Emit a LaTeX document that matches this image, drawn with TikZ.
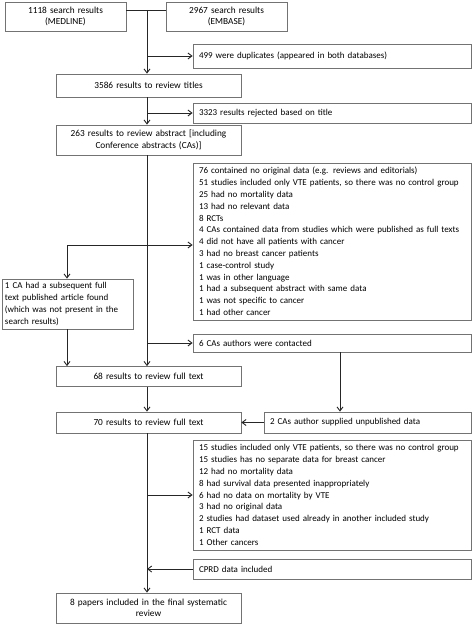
\documentclass[tikz,border=0pt]{standalone}
\usepackage{fontspec}
\setmainfont{Carlito}
\usetikzlibrary{arrows.meta,positioning,calc}
\colorlet{myline}{black!85}
\colorlet{myframe}{black!55}
\tikzset{
	stage/.style={
		rectangle, draw=myframe, line width=0.8pt,
		text width=#1, align=center, inner sep=0pt,
		font=\fontsize{9.3}{11.5}\selectfont,
	},
	stage/.default=175pt,
	note/.style={
		rectangle, draw=myframe, line width=0.8pt,
		text width=266pt, align=left, inner sep=0pt, inner xsep=6pt,
		font=\fontsize{9}{11.8}\selectfont,
	},
	line/.style={
		draw=myline, line width=0.9pt, -{Straight Barb[length=4pt,width=6pt]},
	},
	plain/.style={
		draw=myline, line width=0.9pt,
	}
}
\begin{document}
\begin{tikzpicture}[x=1pt, y=-1pt]
			\useasboundingbox (0,0) rectangle (472,625);
			% Define nodes for the main stages
			\node [stage=115pt, minimum width=121pt, minimum height=29pt] (medline) at (65.5,16.5) {1118 search results\\(MEDLINE)};
			\node [stage=115pt, minimum width=121pt, minimum height=29pt] (embase) at (226.5,16.5) {2967 search results\\(EMBASE)};
			\node [stage, minimum width=185pt, minimum height=23pt] (titles) at (148.5,85.5) {3586 results to review titles};
			\node [stage, minimum width=185pt, minimum height=30pt] (abstracts) at (148.5,140) {263 results to review abstract [including\\Conference abstracts (CAs)]};
			\node [stage, minimum width=185pt, minimum height=20pt] (full68) at (148.5,376.5) {68 results to review full text};
			\node [stage, minimum width=185pt, minimum height=21pt] (full70) at (148.5,422.5) {70 results to review full text};
			\node [stage, minimum width=185pt, minimum height=30pt] (final) at (148.5,608) {8 papers included in the final systematic\\review};
			% Define nodes for the side boxes
			\node [note, minimum height=24pt] (duplicates) at (332,56) {499 were duplicates (appeared in both databases)};
			\node [note, minimum height=20pt] (rejected) at (332,113) {3323 results rejected based on title};
			\node [note, minimum height=157pt] (excluded1) at (332,241.5) {76 contained no original data (e.g. reviews and editorials)\\51 studies included only VTE patients, so there was no control group\\25 had no mortality data\\13 had no relevant data\\8 RCTs\\4 CAs contained data from studies which were published as full texts\\4 did not have all patients with cancer\\3 had no breast cancer patients\\1 case-control study\\1 was in other language\\1 had a subsequent abstract with same data\\1 was not specific to cancer\\1 had other cancer};
			\node [stage=125pt, align=left, font=\fontsize{9}{11.8}\selectfont, minimum width=131pt, minimum height=50pt] (subsequent) at (67.5,304) {1 CA had a subsequent full\\text published article found\\(which was not present in the\\search results)};
			\node [note, minimum height=18pt] (contacted) at (332,343) {6 CAs authors were contacted};
			\node [note, text width=195pt, minimum height=21pt] (supplied) at (367.5,422.5) {2 CAs author supplied unpublished data};
			\node [note, minimum height=110pt] (excluded2) at (332,495) {15 studies included only VTE patients, so there was no control group\\15 studies has no separate data for breast cancer\\12 had no mortality data\\8 had survival data presented inappropriately\\6 had no data on mortality by VTE\\3 had no original data\\2 studies had dataset used already in another included study\\1 RCT data\\1 Other cancers};
			\node [note, minimum height=20pt] (cprd) at (332,569) {CPRD data included};
			% Define coordinates on the trunk
			\coordinate (J1) at (147,10);
			\coordinate (J2) at (147,245);
			\coordinate (J3) at (67,245);
			\coordinate (J4) at (147,569);
			% Search results joined
			\draw[plain] (medline.east |- J1) -- (embase.west |- J1);
			\draw[line] (J1) -- (J1 |- titles.north);
			\draw[line] (J1 |- duplicates.west) -- (duplicates.west);
			\draw[line] (J1 |- titles.south) -- (J1 |- abstracts.north);
			\draw[line] (J1 |- rejected.west) -- (rejected.west);
			% Abstract screening
			\draw[line] (J1 |- abstracts.south) -- (J1 |- full68.north);
			\draw[line] (J2) -- (excluded1.west |- J2);
			\draw[line] (J2) -- (J3) -- (J3 |- subsequent.north);
			\draw[line] (J3 |- subsequent.south) -- (J3 |- full68.north);
			\draw[line] (J1 |- contacted.west) -- (contacted.west);
			\draw[line] ([xshift=8pt]contacted.south) -- ([xshift=8pt]contacted.south |- supplied.north);
			% Full text screening
			\draw[line] (supplied.west) -- (full70.east);
			\draw[line] (J1 |- full68.south) -- (J1 |- full70.north);
			\draw[line] (J1 |- full70.south) -- (J1 |- final.north);
			\draw[line] (J1 |- excluded2.west) -- (excluded2.west);
			\draw[line] (cprd.west) -- (J4);
\end{tikzpicture}
\end{document}
